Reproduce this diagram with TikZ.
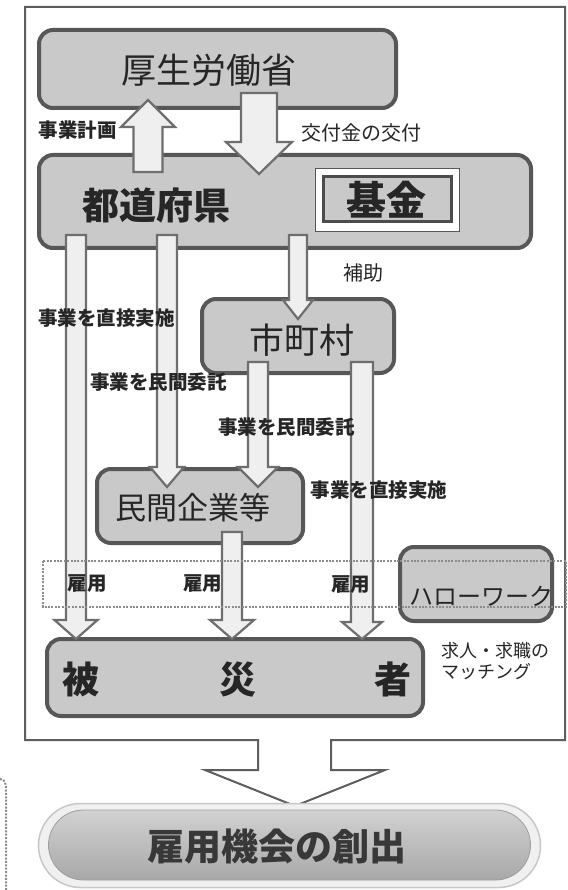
\documentclass[tikz,border=0pt]{standalone}
\usepackage{fontspec}
\usetikzlibrary{calc}
\newfontfamily\jp{Noto Sans CJK JP}
\newcommand\fsz[1]{\fontsize{#1}{#1}\selectfont}
\definecolor{boxfill}{HTML}{C9C9C9}
\definecolor{boxline}{HTML}{575757}
\definecolor{arrfill}{HTML}{EFEFEF}
\definecolor{arrline}{HTML}{6E6E6E}
\definecolor{ink}{HTML}{262626}
\definecolor{frameline}{HTML}{5E5E5E}
\tikzset{
  box/.style={draw=boxline, line width=4pt, fill=boxfill, rounded corners=14pt, inner sep=0pt},
  blockarrow/.style={draw=arrline, line width=2.2pt, fill=arrfill, line join=miter},
  lbl/.style={font=\jp\bfseries\fsz{19.5pt}, text=ink, inner sep=0pt},
  lblr/.style={font=\jp\fsz{20pt}, text=ink, inner sep=0pt},
  bigtxt/.style={font=\jp\fsz{35pt}, text=ink, inner sep=0pt},
  bigbold/.style={font=\jp\bfseries\fsz{37pt}, text=ink, inner sep=0pt},
  frame/.style={draw=frameline, line width=2pt, line join=miter},
  dotbox/.style={draw=black!45, line width=2pt, dash pattern=on 2pt off 1.4pt},
}
% down block arrow: start, tip, shaft half width, head half width, head length
\newcommand\downblock[5]{\draw[blockarrow] let \p1=#1, \p2=#2 in
  (\x2-#3,\y1) -- (\x2+#3,\y1) -- (\x2+#3,\y2+#5) -- (\x2+#4,\y2+#5) -- (\x2,\y2)
  -- (\x2-#4,\y2+#5) -- (\x2-#3,\y2+#5) -- cycle;}
\newcommand\upblock[5]{\draw[blockarrow] let \p1=#1, \p2=#2 in
  (\x2-#3,\y1) -- (\x2+#3,\y1) -- (\x2+#3,\y2-#5) -- (\x2+#4,\y2-#5) -- (\x2,\y2)
  -- (\x2-#4,\y2-#5) -- (\x2-#3,\y2-#5) -- cycle;}
\begin{document}
\begin{tikzpicture}[x=1pt,y=-1pt]
\useasboundingbox[fill=white] (0,0) rectangle (567,890);

% outer frame with the big outlet arrow
\draw[frame] (258,740) -- (25,740) -- (25,7) -- (565,7) -- (565,740) -- (331,740)
  -- (331,770) -- (385,770) -- (295,806) -- (205,770) -- (258,770) -- cycle;

% remnant dotted line at the left edge
\draw[dotbox] (0,779) .. controls (5,779) and (6,783) .. (6,792) -- (6,890);

% boxes
\node[box, minimum width=357pt, minimum height=78pt] (mhlw) at (217.5,69) {};
\node[box, minimum width=492pt, minimum height=93pt] (ken) at (285,201.5) {};
\node[draw=boxline, line width=1.5pt, fill=white, minimum width=144pt, minimum height=63pt, inner sep=0pt] (fundout) at (387.5,200) {};
\node[draw=black!70, line width=3pt, fill=boxfill, minimum width=128pt, minimum height=45pt, inner sep=0pt] (fund) at (387,199.5) {};
\node[box, minimum width=192pt, minimum height=74pt] (city) at (298,336) {};
\node[box, minimum width=206pt, minimum height=74pt] (firm) at (200,506) {};
\node[box, minimum width=376pt, minimum height=77pt] (victim) at (235,677.5) {};
\node[box, minimum width=152pt, minimum height=74pt] (hw) at (476,584) {};

% columns of the block arrows
\coordinate (cU) at (148,0);
\coordinate (cD) at (259,0);
\coordinate (cA) at (76,0);
\coordinate (cB) at (167,0);
\coordinate (cC) at (298,0);
\coordinate (cM) at (258,0);
\coordinate (cE) at (362,0);
\coordinate (cF) at (232,0);

% block arrows
\upblock{($(ken.north -| cU)+(0,19)$)}{($(mhlw.south -| cU)+(0,-10)$)}{14.5pt}{27pt}{27pt}
\downblock{($(mhlw.south -| cD)+(0,-17)$)}{($(ken.north -| cD)+(0,21)$)}{18pt}{33pt}{32pt}
\downblock{($(ken.south -| cA)+(0,-15)$)}{($(victim.north -| cA)+(0,2)$)}{10pt}{21.5pt}{19pt}
\downblock{($(ken.south -| cB)+(0,-15)$)}{($(firm.north -| cB)+(0,20)$)}{10pt}{17pt}{20pt}
\downblock{($(ken.south -| cC)+(0,-15)$)}{($(city.north -| cC)+(0,22)$)}{9pt}{15pt}{19pt}
\downblock{($(city.south -| cM)+(0,-13)$)}{($(firm.north -| cM)+(0,20)$)}{10pt}{20pt}{20pt}
\downblock{($(city.south -| cE)+(0,-13)$)}{($(victim.north -| cE)+(0,2)$)}{11pt}{20pt}{17pt}
\downblock{($(firm.south -| cF)+(0,-13)$)}{($(victim.north -| cF)+(0,2)$)}{10pt}{22pt}{19pt}

% box texts
\node[bigtxt] (t1) at (209,70) {厚生労働省};
\node[bigbold] (t2) at (156,206) {都道府県};
\node[font=\jp\bfseries\fsz{40pt}, text=ink, inner sep=0pt] (t3) at (386,200) {基金};
\node[bigtxt] (t4) at (302,340) {市町村};
\node[font=\jp\fsz{31pt}, text=ink, inner sep=0pt] (t5) at (193,508) {民間企業等};
\node[bigbold] (t6) at (237,680) {被\hspace{120pt}災\hspace{118pt}者};
\node[font=\jp\fsz{24pt}, text=ink, inner sep=0pt] (t7) at (481,596) {ハローワーク};

% labels
\node[lbl] (l1) at (77.5,130) {事業計画};
\node[lblr] (l2) at (361.5,133) {交付金の交付};
\node[lblr] (l3) at (363,273) {補助};
\node[lbl] (l4) at (106.5,318) {事業を直接実施};
\node[lbl] (l5) at (158.5,382) {事業を民間委託};
\node[lbl] (l6) at (286.5,427) {事業を民間委託};
\node[lbl] (l7) at (379,490) {事業を直接実施};
\node[lbl] (l8) at (87,584) {雇用};
\node[lbl] (l9) at (202.5,584) {雇用};
\node[lbl] (l10) at (350.5,585) {雇用};
\node[font=\jp\fsz{18pt}, text=ink, inner sep=0pt, anchor=west, align=left] (l11) at (441,661)
  {求人・求職の\\[3pt]マッチング};

% dotted band
\draw[dotbox] (43,561) rectangle (566,607);

% result pill
\node[draw=black!22, line width=1.5pt, fill=black!6, rounded corners=42pt, minimum width=502pt, minimum height=84pt, inner sep=0pt] (outglow) at (289.5,845.5) {};
\node[top color=black!18, bottom color=black!34, draw=black!38, line width=0.8pt, rounded corners=35pt, minimum width=482pt, minimum height=70pt, inner sep=0pt] (result) at (289.5,845) {};
\node[font=\jp\bfseries\fsz{37pt}, text=black!78, inner sep=0pt] (t8) at (277,847) {雇用機会の創出};
\end{tikzpicture}
\end{document}
